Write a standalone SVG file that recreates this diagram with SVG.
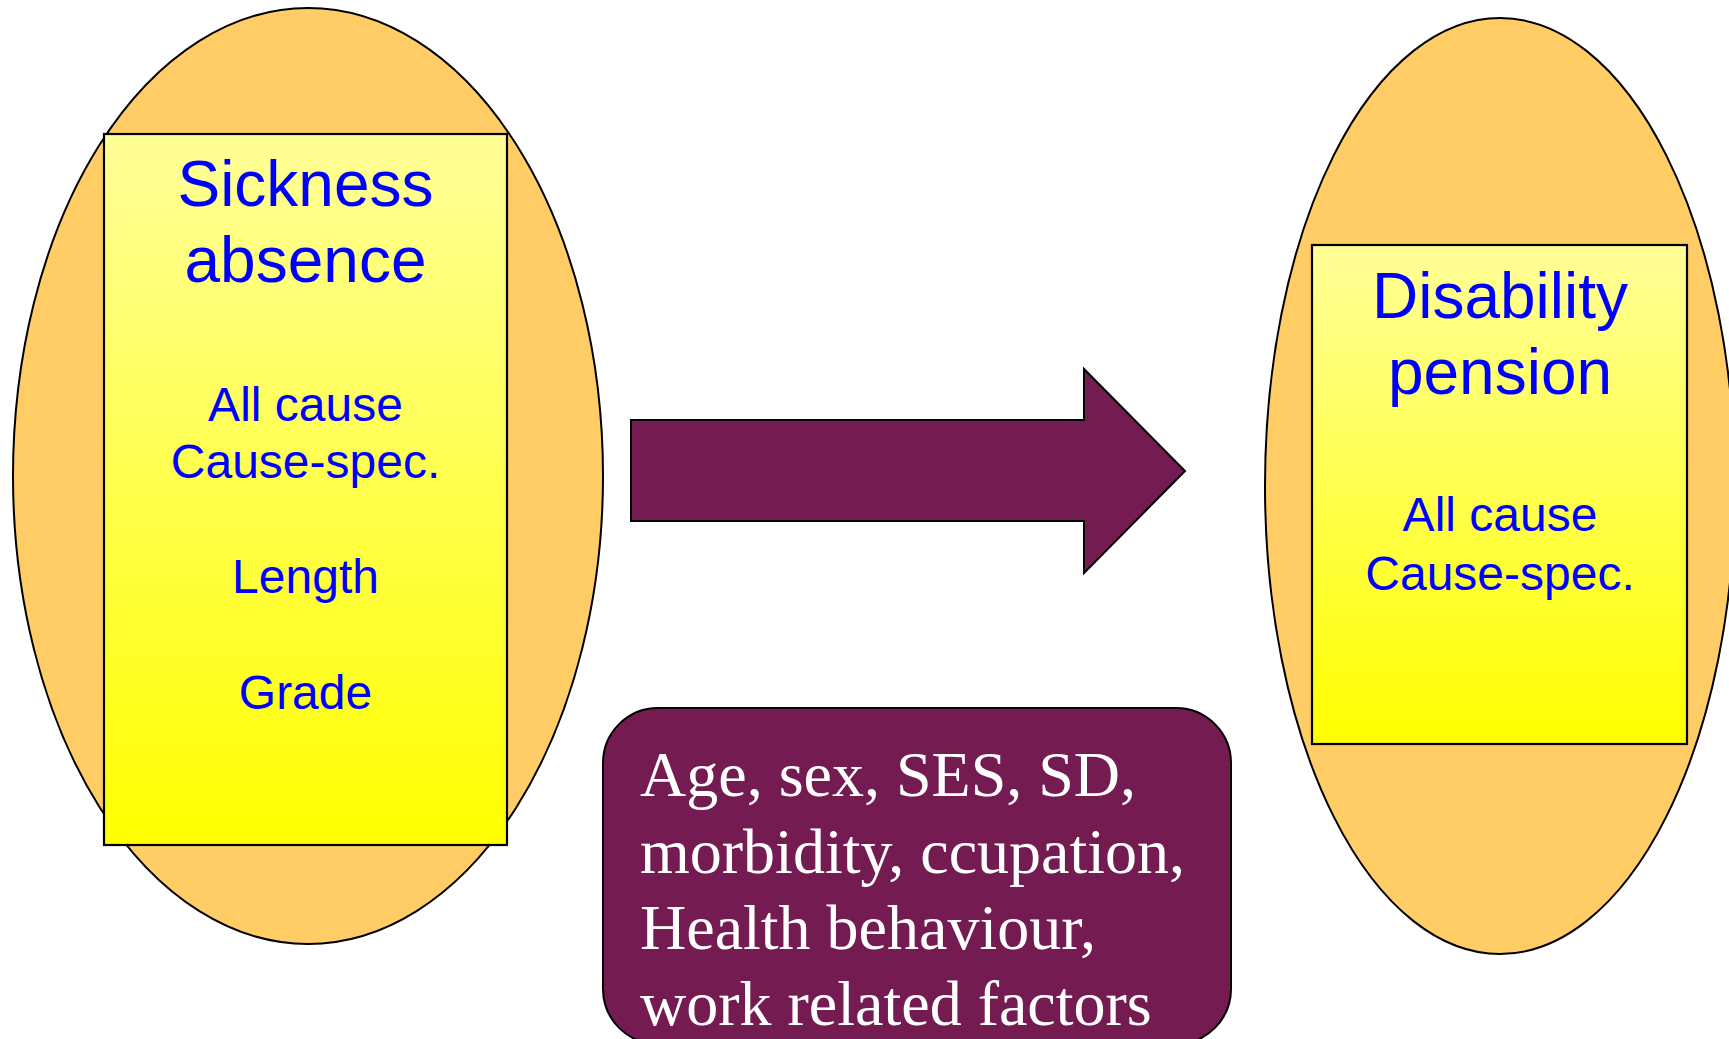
<svg xmlns="http://www.w3.org/2000/svg" width="1729" height="1039" viewBox="0 0 1729 1039">
<style>
.oval{fill:#FFCC66;stroke:#000;stroke-width:2}
.box{fill:url(#yg);stroke:#000;stroke-width:2.2}
.t{font-family:"Liberation Sans",Arial,sans-serif;fill:#0000FF;text-anchor:middle}
.big{font-size:64px}
.small{font-size:48px}
.fac{font-family:"Liberation Serif","Times New Roman",serif;fill:#FFFFFF;font-size:64px}
</style>
<defs>
<linearGradient id="yg" x1="0" y1="0" x2="0" y2="1">
<stop offset="0" stop-color="#FFFF99"/>
<stop offset="1" stop-color="#FFFF00"/>
</linearGradient>
</defs>
<rect width="1729" height="1039" fill="#FFFFFF"/>
<g id="sickness-absence">
<ellipse class="oval" cx="308" cy="476" rx="295" ry="468"/>
<rect class="box" x="104" y="134" width="403" height="711"/>
<text class="t big" x="305.5" y="206">Sickness</text>
<text class="t big" x="305.5" y="282">absence</text>
<text class="t small" x="305.5" y="421">All cause</text>
<text class="t small" x="305.5" y="478">Cause-spec.</text>
<text class="t small" x="305.5" y="593">Length</text>
<text class="t small" x="305.5" y="709">Grade</text>
</g>
<g id="disability-pension">
<ellipse class="oval" cx="1500" cy="486" rx="235" ry="468"/>
<rect class="box" x="1312" y="245" width="375" height="499"/>
<text class="t big" x="1500" y="318">Disability</text>
<text class="t big" x="1500" y="394">pension</text>
<text class="t small" x="1500" y="531">All cause</text>
<text class="t small" x="1500" y="590">Cause-spec.</text>
</g>
<g id="connectors">
<polygon points="631,420 1084,420 1084,369 1185,471 1084,573 1084,521 631,521" fill="#741B52" stroke="#000" stroke-width="2"/>
</g>
<g id="factors">
<rect x="603" y="708" width="628" height="336" rx="55" ry="55" fill="#741B52" stroke="#000" stroke-width="2"/>
<text class="fac" x="640" y="796">Age, sex, SES, SD,</text>
<text class="fac" x="640" y="873">morbidity, ccupation,</text>
<text class="fac" x="640" y="949">Health behaviour,</text>
<text class="fac" x="640" y="1025">work related factors</text>
</g>
</svg>
